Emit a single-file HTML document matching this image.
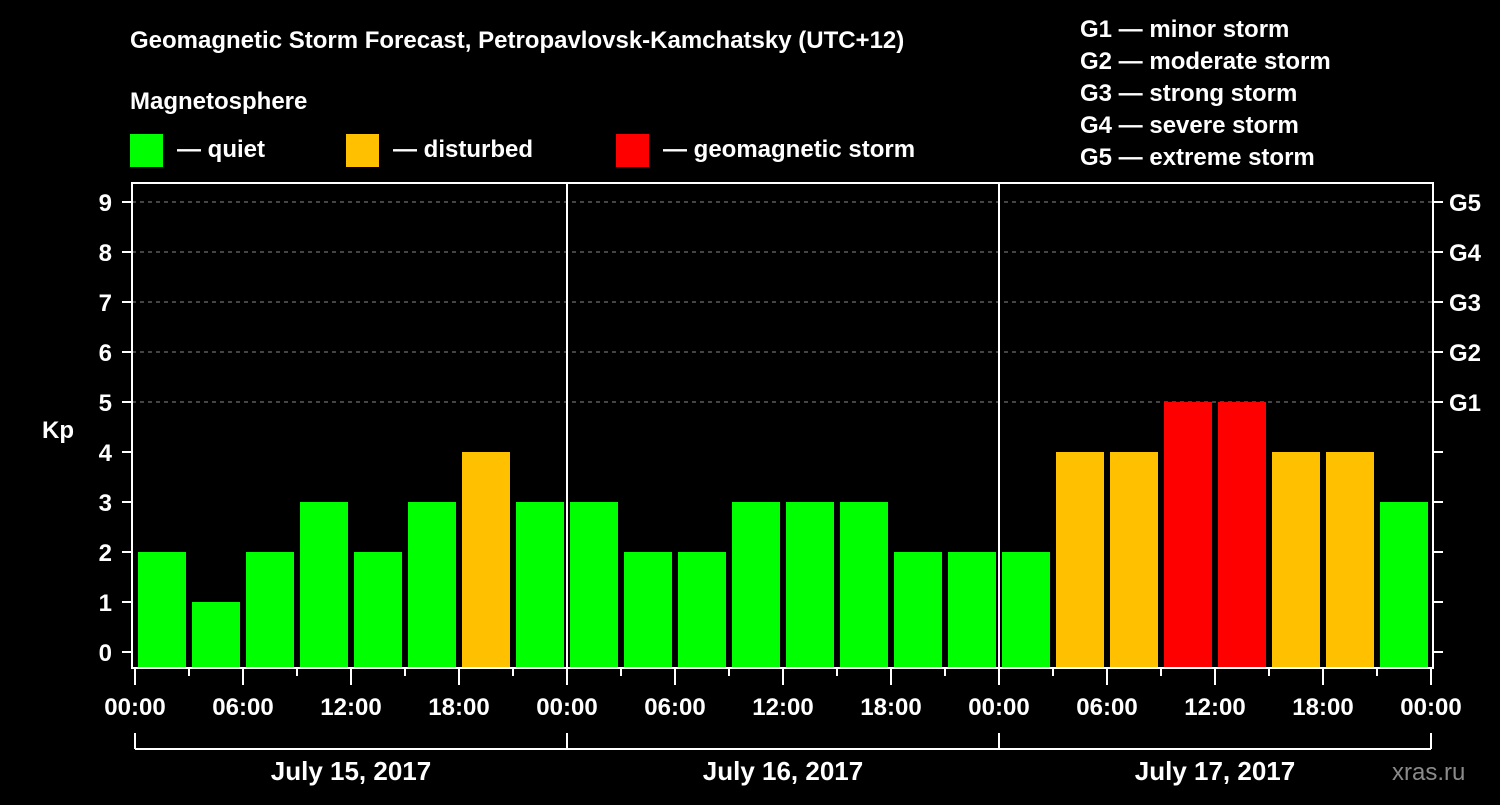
<!DOCTYPE html>
<html><head><meta charset="utf-8"><style>
body{margin:0;background:#000;width:1500px;height:800px;overflow:hidden}
svg text{font-family:"Liberation Sans",sans-serif;font-weight:bold;fill:#fff}
</style></head><body>
<svg id="chart" width="1500" height="800" viewBox="0 0 1500 800">
<rect width="1500" height="800" fill="#000"/>
<text x="130" y="48" font-size="24">Geomagnetic Storm Forecast, Petropavlovsk-Kamchatsky (UTC+12)</text>
<text x="130" y="109" font-size="24">Magnetosphere</text>
<g><rect x="130" y="134" width="33" height="33" fill="#00ff00"/><text x="177" y="157" font-size="24">— quiet</text></g>
<g><rect x="346" y="134" width="33" height="33" fill="#ffc000"/><text x="393" y="157" font-size="24">— disturbed</text></g>
<g><rect x="616" y="134" width="33" height="33" fill="#ff0000"/><text x="663" y="157" font-size="24">— geomagnetic storm</text></g>
<g font-size="24">
<text x="1080" y="37">G1 — minor storm</text>
<text x="1080" y="69">G2 — moderate storm</text>
<text x="1080" y="101">G3 — strong storm</text>
<text x="1080" y="133">G4 — severe storm</text>
<text x="1080" y="165">G5 — extreme storm</text>
</g>
<text x="42" y="438" font-size="24">Kp</text>
<text x="1392" y="780" font-size="24" fill="#888" style="fill:#8a8a8a;font-weight:normal">xras.ru</text>
<g id="layer"></g>
</svg>
<script>
const kpValues = [2,1,2,3,2,3,4,3, 3,2,2,3,3,3,2,2, 2,4,4,5,5,4,4,3];
const dayLabels = ["July 15, 2017","July 16, 2017","July 17, 2017"];
const hourLabels = ["00:00","06:00","12:00","18:00"];
const gLabels = ["G1","G2","G3","G4","G5"];
const yTicks = [0,1,2,3,4,5,6,7,8,9];

const NS="http://www.w3.org/2000/svg";
const L=document.getElementById('layer');
const X0=135, X1=1431, FT=183, FB=668;
const nBins=kpValues.length, binW=(X1-X0)/nBins;
const x=i=>X0+i*binW;
const y=v=>652-v*50;
function mk(t,a,p){const e=document.createElementNS(NS,t);for(const k in a)e.setAttribute(k,a[k]);(p||L).appendChild(e);return e;}
// grid
for(let v=5;v<=9;v++){
  const g=mk('line',{x1:132,x2:1433,y1:y(v),y2:y(v),stroke:'#888','stroke-dasharray':'4,4','stroke-width':1});
  
  
}
// bars
kpValues.forEach((v,i)=>{
  const c=v>=5?'#ff0000':(v>=4?'#ffc000':'#00ff00');
  const r=mk('rect',{x:x(i)+3,y:y(v),width:binW-6,height:FB-y(v),fill:c});
  
  
});
// day separators
for(let d=1;d<dayLabels.length;d++){
  const s=mk('line',{x1:X0+d*432,x2:X0+d*432,y1:FT,y2:FB,stroke:'#fff','stroke-width':2});
  
  
}
// frame
const f=mk('rect',{x:132,y:FT,width:1301,height:FB-FT,fill:'none',stroke:'#fff','stroke-width':2});


// y ticks
yTicks.forEach(v=>{
  mk('line',{x1:122,x2:132,y1:y(v),y2:y(v),stroke:'#fff','stroke-width':2});
  mk('line',{x1:1433,x2:1443,y1:y(v),y2:y(v),stroke:'#fff','stroke-width':2});
  const t=mk('text',{x:112,y:y(v)+9,'font-size':24,'text-anchor':'end'});t.textContent=v;
  
  
});
gLabels.forEach((g,i)=>{
  const t=mk('text',{x:1449,y:y(5+i)+9,'font-size':24});t.textContent=g;
  
  
});
// x ticks
for(let i=0;i<=nBins;i++){
  const major=i%2===0;
  mk('line',{x1:x(i),x2:x(i),y1:FB,y2:FB+(major?17:8),stroke:'#fff','stroke-width':2});
}
for(let i=0;i<=nBins;i+=2){
  const t=mk('text',{x:x(i),y:715,'font-size':24,'text-anchor':'middle'});
  t.textContent=hourLabels[(i/2)%4];
  
  
}
// day brackets
mk('line',{x1:X0,x2:X1,y1:749,y2:749,stroke:'#fff','stroke-width':2});
for(let d=0;d<=dayLabels.length;d++) mk('line',{x1:X0+d*432,x2:X0+d*432,y1:733,y2:749,stroke:'#fff','stroke-width':2});
dayLabels.forEach((s,d)=>{
  const t=mk('text',{x:X0+d*432+216,y:780,'font-size':26,'text-anchor':'middle'});t.textContent=s;
  
  
});
</script>
</body></html>
